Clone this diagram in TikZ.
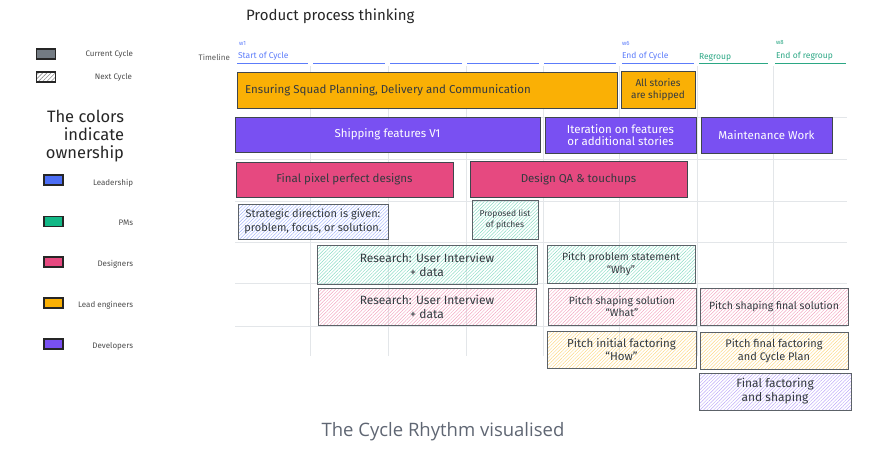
\documentclass[tikz,border=0pt]{standalone}
\usepackage{fontspec}
\setmainfont{Fira Sans}
\newfontfamily\captionfont{Open Sans}
\usetikzlibrary{patterns.meta}
\definecolor{cr-orange}{HTML}{FAB005}
\definecolor{cr-purple}{HTML}{7950F2}
\definecolor{cr-pink}{HTML}{E64980}
\definecolor{cr-blue}{HTML}{4C6EF5}
\definecolor{cr-green}{HTML}{12B886}
\definecolor{cr-grey}{HTML}{737B83}
\definecolor{cr-stroke}{HTML}{3F464D}
\definecolor{cr-ink}{HTML}{343A40}
\definecolor{cr-grid}{HTML}{E3E6E9}
\definecolor{cr-time}{HTML}{5C7CFA}
\definecolor{cr-regroup}{HTML}{2BA784}
\definecolor{cr-caption}{HTML}{5F6673}

\begin{document}
\begin{tikzpicture}[x=1pt, y=-1pt,
    every node/.style={inner sep=0pt, outer sep=0pt, text=cr-ink},
    bigbox/.style={draw=cr-stroke, line width=0.9pt, fill=#1, align=center,
                   font=\fontsize{11.5}{13}\selectfont},
    hatchbox/.style={draw=cr-stroke!85, line width=0.8pt, align=center,
                     pattern={Lines[angle=45, distance=2.4pt, line width=0.45pt]},
                     pattern color=#1!50, font=\fontsize{10.5}{12.5}\selectfont},
    keybox/.style={draw=black!85, line width=1.2pt, fill=#1,
                   minimum width=19, minimum height=10},
    keytext/.style={anchor=east, font=\fontsize{8}{9}\selectfont, text=black!70},
    timetext/.style={anchor=west, font=\fontsize{8.5}{9}\selectfont, text=#1},
    weektext/.style={anchor=west, font=\fontsize{6}{7}\selectfont, text=#1}]

\useasboundingbox (0,0) rectangle (880,455);

% Grid
\foreach \gx in {310,388,466,543,619,697,773}
    \draw[cr-grid, line width=0.7pt] (\gx,66) -- (\gx,356);
\foreach \gy in {117,159,201,242,283,326}
    \draw[cr-grid, line width=0.7pt] (235,\gy) -- (847,\gy);

% Title
\node[anchor=west, font=\fontsize{15}{17}\selectfont, text=black!85] (title) at (246,16) {Product process thinking};

% Timeline
\node[keytext, text=black!65] (timeline) at (230,57) {Timeline};
\foreach \sa/\sb in {237/308,313/385,390/462,467/539,544/616,622/694}
    \draw[cr-time, line width=0.8pt] (\sa,63) -- (\sb,63);
\foreach \sa/\sb in {699/768,775/846}
    \draw[cr-regroup, line width=0.8pt] (\sa,63) -- (\sb,63);
\node[weektext=cr-time] (wone) at (239,43) {w1};
\node[timetext=cr-time] (start) at (238,56) {Start of Cycle};
\node[weektext=cr-time] (wsix) at (622,43) {w6};
\node[timetext=cr-time] (endcycle) at (622,56) {End of Cycle};
\node[timetext=cr-regroup] (regroup) at (699,57) {Regroup};
\node[weektext=cr-regroup] (weight) at (776,42) {w8};
\node[timetext=cr-regroup] (endregroup) at (776,56) {End of regroup};

% Legend
\node[keybox=cr-grey] (current) at (46,54) {};
\node[keytext] (currenttext) at (133,54) {Current Cycle};
\node[keybox=white, pattern={Lines[angle=45, distance=3pt, line width=0.6pt]}, pattern color=black!45] (next) at (46,77) {};
\node[keytext] (nexttext) at (132,77) {Next Cycle};
\node[anchor=east, align=right, font=\fontsize{16.5}{18}\selectfont, text=black!85] (owners) at (124,136) {The colors\\indicate\\ownership};
\node[keybox=cr-blue] (leadkey) at (53.5,180) {};
\node[keytext] (leadtext) at (133,183) {Leadership};
\node[keybox=cr-green] (pmkey) at (53.5,221.5) {};
\node[keytext] (pmtext) at (133,223) {PMs};
\node[keybox=cr-pink] (designkey) at (53.5,262) {};
\node[keytext] (designtext) at (133,264) {Designers};
\node[keybox=cr-orange] (engkey) at (53.5,303) {};
\node[keytext] (engtext) at (133,305) {Lead engineers};
\node[keybox=cr-purple] (devkey) at (53.5,344) {};
\node[keytext] (devtext) at (133,346) {Developers};

% Row 1
\node[bigbox=cr-orange, minimum width=380, minimum height=36] (squad) at (427,90)
    {\hspace*{-78pt}Ensuring Squad Planning, Delivery and Communication};
\node[bigbox=cr-orange, minimum width=74, minimum height=37, font=\fontsize{10}{12.5}\selectfont] (shipped) at (658,89.5)
    {All stories\\are shipped};
% Row 2
\node[bigbox=cr-purple, minimum width=305, minimum height=35, text=white] (features) at (387.5,134.5)
    {Shipping features V1};
\node[bigbox=cr-purple, minimum width=151, minimum height=36, text=white, font=\fontsize{11.5}{12.5}\selectfont] (iteration) at (620.5,135)
    {Iteration on features\\or additional stories};
\node[bigbox=cr-purple, minimum width=131, minimum height=36, text=white] (maintenance) at (766.5,135)
    {Maintenance Work};
% Row 3
\node[bigbox=cr-pink, minimum width=217, minimum height=35] (pixel) at (344.5,179.5)
    {Final pixel perfect designs};
\node[bigbox=cr-pink, minimum width=217, minimum height=36] (designqa) at (578.5,179)
    {Design QA \& touchups};
% Row 4
\node[hatchbox=cr-blue, minimum width=150, minimum height=35, font=\fontsize{11}{13.5}\selectfont] (strategy) at (313,221.5)
    {Strategic direction is given:\\problem, focus, or solution.};
\node[hatchbox=cr-green, minimum width=66, minimum height=39, font=\fontsize{8.5}{10.5}\selectfont] (pitches) at (505,219.5)
    {Proposed list\\of pitches};
% Row 5
\node[hatchbox=cr-green, minimum width=220, minimum height=39, font=\fontsize{12}{14}\selectfont] (researchpm) at (427,264.5)
    {Research: User Interview\\+ data};
\node[hatchbox=cr-green, minimum width=148, minimum height=38] (why) at (621,264)
    {Pitch problem statement\\``Why''};
% Row 6
\node[hatchbox=cr-pink, minimum width=218, minimum height=37, font=\fontsize{12}{14}\selectfont] (researchdes) at (427,306.5)
    {Research: User Interview\\+ data};
\node[hatchbox=cr-pink, minimum width=148, minimum height=37] (what) at (622,306.5)
    {Pitch shaping solution\\``What''};
\node[hatchbox=cr-pink, minimum width=148, minimum height=37] (finalsol) at (774,306.5)
    {Pitch shaping final solution};
% Row 7
\node[hatchbox=cr-orange, minimum width=149, minimum height=37, font=\fontsize{11.5}{13}\selectfont] (how) at (621.5,349.5)
    {Pitch initial factoring\\``How''};
\node[hatchbox=cr-orange, minimum width=148, minimum height=37, font=\fontsize{11}{13}\selectfont] (cycleplan) at (774,350.5)
    {Pitch final factoring\\and Cycle Plan};
% Row 8
\node[hatchbox=cr-purple, minimum width=152, minimum height=37, font=\fontsize{12}{14}\selectfont] (shaping) at (775,391.5)
    {Final factoring\\and shaping};

% Caption
\node[font=\captionfont\fontsize{18.5}{21}\selectfont, text=cr-caption] (caption) at (443,432)
    {The Cycle Rhythm visualised};

\end{tikzpicture}
\end{document}
